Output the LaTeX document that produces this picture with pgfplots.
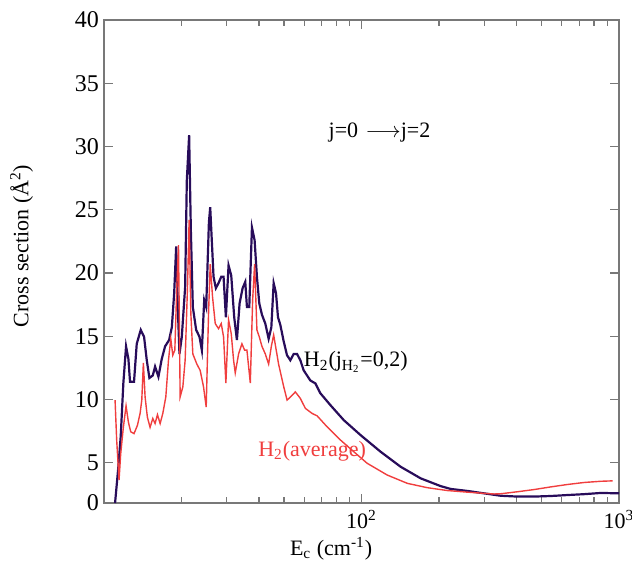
\documentclass[border=0pt]{standalone}
\usepackage{fontspec}
\setmainfont{Liberation Serif}
\usepackage{pgfplots}
\pgfplotsset{compat=1.18}
\definecolor{navyc}{RGB}{40,12,90}
\definecolor{redc}{RGB}{240,62,62}
\definecolor{framec}{RGB}{120,120,120}

\begin{document}
\begin{tikzpicture}
\begin{axis}[
    scale only axis,
    width=257.5pt, height=241.5pt,
    xmode=log, xmin=10, xmax=1000,
    % the bottom band (0 to 5) is squeezed in the reference
    y coord trafo/.code={\pgfmathparse{#1<5 ? 0.637*#1 : #1-1.815}},
    ymin=0, ymax=40,
    ytick={0,5,10,15,20,25,30,35,40},
    yticklabels={0,5,10,15,20,25,30,35,40},
    xtick={100,1000},
    xticklabels={10\textsuperscript{2},10\textsuperscript{3}},
    minor xtick={20,30,40,50,60,70,80,90,200,300,400,500,600,700,800,900},
    xtick pos=both, ytick pos=both,
    xticklabel pos=lower, yticklabel pos=left,
    tick align=inside,
    major tick length=4.5pt, minor tick length=3pt,
    axis line style={framec, line width=0.8pt},
    every tick/.style={framec, line width=0.6pt},
    xticklabel style={font=\fontsize{11}{13}\selectfont, black},
    yticklabel style={font=\fontsize{12}{14}\selectfont, black, xshift=1pt},
    xlabel={E\textsubscript{c} (cm\textsuperscript{-1})},
    ylabel={Cross section (Å\textsuperscript{2})},
    label style={font=\fontsize{11}{13}\selectfont},
    xlabel style={at={(axis description cs:0.441,0)}, anchor=north, yshift=-13.5pt},
    ylabel style={at={(axis description cs:0,0.532)}, anchor=south, yshift=32pt},
]

% H2(j_H2=0,2)
\addplot[navyc, line width=1.1pt] coordinates {
(11.04,0) (11.37,4.5) (11.61,7.05) (11.89,11.3) (12.18,14.2) (12.44,13.2)
(12.62,11.4) (13.08,11.4) (13.40,14.4) (13.89,15.5) (14.31,14.95) (14.66,13.1)
(15.01,11.7) (15.47,11.9) (15.79,12.6) (16.27,11.8) (16.76,13.2) (17.27,14.2)
(17.90,14.7) (18.34,15.7) (18.73,18.4) (19.07,22.1) (19.35,17.3) (19.64,13.6)
(20.05,14.95) (20.66,18.9) (20.97,27.3) (21.41,30.9) (21.74,23.4) (22.13,17.3)
(22.80,15.5) (23.49,14.95) (23.99,13.9) (24.50,17.85) (24.94,17.3) (25.55,24.0)
(25.85,25.2) (26.63,19.7) (27.19,18.8) (27.85,19.2) (28.53,19.7) (29.13,19.7)
(29.74,16.5) (30.46,20.6) (31.20,19.8) (32.04,16.5) (32.82,14.7) (33.62,17.6)
(34.54,18.8) (35.37,19.3) (35.90,17.3) (36.66,17.3) (37.55,23.6) (38.45,22.6)
(39.26,19.7) (40.09,17.6) (41.06,16.7) (42.31,16.0) (43.59,14.8) (44.65,15.7)
(45.59,19.2) (46.56,18.4) (47.39,16.5) (48.39,15.9) (49.86,14.6) (51.37,13.5)
(52.92,13.1) (54.53,13.6) (56.19,13.6) (57.88,13.1) (59.64,12.3) (63.32,11.5)
(66.22,11.27) (69.18,10.5) (75.68,9.56) (85.31,8.37) (99.08,7.19) (118.6,5.87)
(141.9,4.5) (169.8,3.06) (202.8,2.1) (221.8,1.75) (257.6,1.5) (299.2,1.2)
(347.5,0.9) (403.6,0.8) (467.7,0.8) (543.3,0.87) (631.0,0.99) (732.8,1.1)
(851.1,1.25) (1000,1.2)
};

% H2(average)
\addplot[redc, line width=0.7pt] coordinates {
(11.04,9.95) (11.20,6.8) (11.44,2.85) (11.61,5.7) (11.89,7.8) (12.18,9.5)
(12.44,8.2) (12.70,7.45) (13.08,7.3) (13.48,7.95) (13.81,8.9) (14.02,9.95)
(14.22,12.9) (14.44,10.2) (14.74,8.6) (15.10,7.8) (15.47,8.5) (15.79,8.1)
(16.13,8.8) (16.52,8.1) (16.92,8.9) (17.38,10.2) (17.80,13.1) (18.17,14.8)
(18.50,13.5) (18.84,13.9) (19.18,18.9) (19.47,22.2) (19.76,10.2) (20.24,11.0)
(20.66,13.1) (21.10,18.9) (21.41,24.2) (21.74,16.8) (22.13,13.6) (22.94,12.8)
(23.63,12.3) (24.35,11.0) (24.94,9.4) (25.47,16.8) (25.85,20.7) (26.40,18.1)
(27.04,16.0) (27.85,15.6) (28.53,16.0) (29.13,14.95) (29.74,11.3) (30.46,16.3)
(31.20,15.2) (31.86,13.1) (32.34,12.1) (33.32,13.6) (34.33,14.4) (35.16,13.9)
(35.90,13.9) (37.00,11.3) (37.78,17.85) (38.45,20.7) (39.26,15.5) (40.09,14.95)
(41.06,14.2) (42.31,13.6) (43.59,12.8) (44.65,14.2) (45.59,15.1) (47.64,12.8)
(49.89,11.0) (51.40,9.95) (52.97,10.2) (55.34,10.6) (57.81,10.1) (60.53,9.3)
(64.27,8.9) (67.30,8.7) (73.45,7.85) (82.79,6.8) (93.33,5.87) (105.2,4.93)
(125.9,3.47) (150.7,2.44) (180.3,1.9) (215.3,1.55) (257.6,1.35) (299.2,1.2)
(327.3,1.12) (347.5,1.15) (403.6,1.4) (467.7,1.67) (543.3,2.0) (631.0,2.3)
(732.8,2.55) (851.1,2.7) (944.1,2.75)
};

\node[font=\fontsize{11}{13}\selectfont] at (rel axis cs:0.535,0.768)
  {j=0\,\,$\longrightarrow$j=2};
\node[font=\fontsize{11}{13}\selectfont] at (rel axis cs:0.489,0.292)
  {H\textsubscript{2}(j\textsubscript{H\textsubscript{2}}=0,2)};
\node[font=\fontsize{11}{13}\selectfont, text=redc] at (rel axis cs:0.404,0.108)
  {H\textsubscript{2}(average)};

\coordinate (bl) at (rel axis cs:0,0);
\coordinate (tr) at (rel axis cs:1,1);
\end{axis}
\pgfresetboundingbox
\path ([shift={(-52pt,-29.5pt)}]bl) rectangle ([shift={(6.5pt,10pt)}]tr);
\end{tikzpicture}
\end{document}
